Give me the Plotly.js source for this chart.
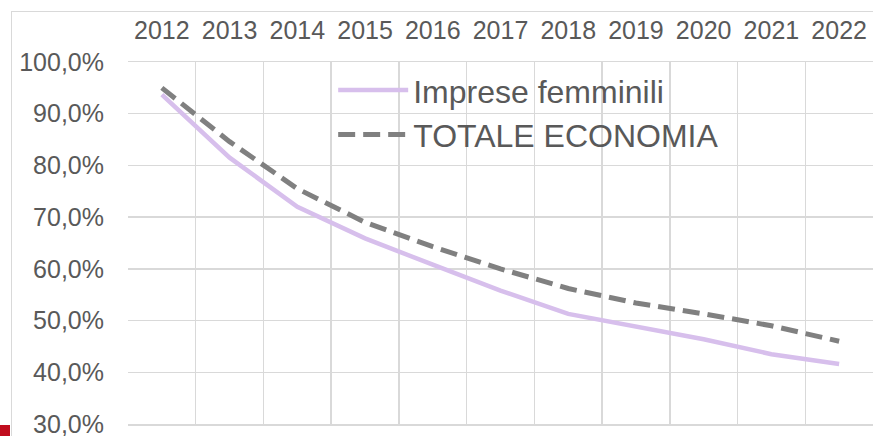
<!DOCTYPE html>
<html>
<head>
<meta charset="utf-8">
<script src="https://cdn.plot.ly/plotly-3.0.1.min.js"></script>
<style>
html,body{margin:0;padding:0;background:#fff;overflow:hidden;}
#wrap{position:relative;width:873px;height:436px;}
#chart{position:absolute;left:0;top:0;width:873px;height:436px;}
#frame{position:absolute;left:11px;top:11px;width:900px;height:460px;border:1.5px solid #d9d9d9;box-sizing:border-box;pointer-events:none;}
#mark{position:absolute;left:0;top:425px;width:10px;height:11px;background:#c00d1e;}
</style>
</head>
<body>
<div id="wrap">
<div id="frame"></div>
<div id="chart"></div>
<div id="mark"></div>
</div>
<script>
var years = ['2012','2013','2014','2015','2016','2017','2018','2019','2020','2021','2022'];
var impreseFemminili = [93.7, 81.5, 72.0, 65.9, 60.8, 55.8, 51.3, 48.8, 46.4, 43.5, 41.6];
var totaleEconomia = [95.0, 84.6, 75.5, 69.0, 64.3, 60.0, 56.2, 53.4, 51.3, 49.0, 46.0];
var seriesNames = ['Imprese femminili', 'TOTALE ECONOMIA'];

var txt = '#595959';
var font = 'Liberation Sans, Arial, sans-serif';

var traces = [
  {x: years, y: impreseFemminili, name: seriesNames[0], type: 'scatter', mode: 'lines',
   line: {color: '#d7bfec', width: 4.5}},
  {x: years, y: totaleEconomia, name: seriesNames[1], type: 'scatter', mode: 'lines',
   line: {color: '#808080', width: 5, dash: '17px,8px'}}
];

var layout = {
  width: 873, height: 436,
  margin: {l: 128, r: 0, t: 62, b: 12},
  paper_bgcolor: 'rgba(0,0,0,0)',
  plot_bgcolor: 'rgba(0,0,0,0)',
  separators: ',.',
  showlegend: true,
  legend: {x: 0.2754, y: 0.998, xanchor: 'left', yanchor: 'top',
    font: {family: font, size: 32, color: txt}, bgcolor: 'rgba(0,0,0,0)',
    itemwidth: 70, tracegroupgap: 0},
  xaxis: {type: 'category', side: 'top', tickson: 'boundaries', showgrid: true,
    range: [-0.5, 10.5],
    gridcolor: '#d9d9d9', gridwidth: 1.5, showline: true, mirror: true,
    linecolor: '#d9d9d9', linewidth: 1.5, zeroline: false, ticks: '',
    tickfont: {family: font, size: 25, color: txt}, ticklabelstandoff: 12, fixedrange: true},
  yaxis: {range: [30, 100], dtick: 10, tick0: 30, tickformat: '.1f', ticksuffix: '%',
    showgrid: true, gridcolor: '#d9d9d9', gridwidth: 1.5, zeroline: false, showline: false,
    ticklabeloverflow: 'allow',
    ticks: '', tickfont: {family: font, size: 25, color: txt}, ticklabelstandoff: 23, fixedrange: true}
};

Plotly.newPlot('chart', traces, layout, {displayModeBar: false, staticPlot: true});
</script>
</body>
</html>
